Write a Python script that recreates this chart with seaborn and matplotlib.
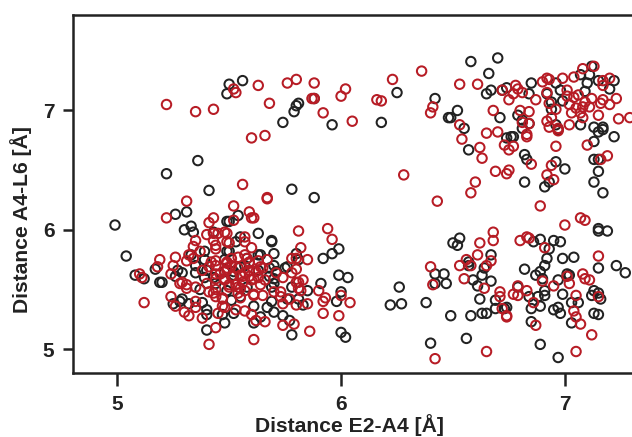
import matplotlib
matplotlib.use('Agg')
import matplotlib.pyplot as plt
import pandas as pd
import seaborn as sns

# distances, one group per colour
black_x = [5.50, 5.56, 5.49, 5.36, 5.22, 5.41,
           5.81, 5.80, 5.79, 5.74, 5.88, 5.96, 6.18, 6.25, 6.42, 6.48, 5.78, 5.88,
           6.58, 6.70, 6.66, 6.65, 6.67, 6.72, 6.74, 6.85, 6.84, 6.52, 6.49, 6.71, 6.55, 6.57,
           6.74, 6.76, 6.77, 6.79, 6.81, 6.84, 6.81, 6.82, 6.83, 6.82, 6.91, 6.93, 6.96, 7.00,
           6.92, 6.96, 6.98, 6.99, 6.94, 6.94, 6.96, 6.97, 7.07, 7.09, 7.10, 7.11, 7.07, 7.12,
           7.15, 7.22, 7.20, 7.13, 7.15, 7.17, 7.17, 7.22, 7.13, 7.13, 7.15, 7.15, 7.13, 7.17,
           4.99, 5.04, 5.08, 5.12, 5.19, 5.20, 5.17, 5.26, 5.31, 5.33, 5.30, 5.34, 5.27, 5.26,
           5.29, 5.25, 5.28, 5.32, 5.38, 5.40, 5.40, 5.40, 5.48, 5.35, 5.37, 5.39, 5.39, 5.35,
           5.40, 5.39, 5.43, 5.49, 5.49, 5.48, 5.44, 5.43, 5.49, 5.47, 5.33,
           5.54, 5.50, 5.63, 5.69, 5.69, 5.70, 5.55, 5.50, 5.63, 5.58, 5.80, 5.81, 5.99, 5.96,
           5.92, 5.99, 6.03, 5.91, 6.00, 5.98, 6.00, 6.02, 5.78, 5.75, 5.70, 5.68, 5.69, 5.78,
           5.85, 5.83, 5.81, 5.76, 5.69, 5.67, 5.61, 5.70, 5.74, 5.77, 5.64, 5.61, 5.52, 5.55,
           5.52, 5.63, 5.58, 5.51, 5.55,
           5.53, 5.48, 5.52, 5.29, 5.64, 5.68, 5.71, 5.76, 5.70, 5.70, 5.57,
           6.53, 6.50, 6.52, 6.42, 6.46, 6.47, 6.42, 6.26, 6.27, 6.22, 6.38, 6.49, 6.40, 6.56,
           6.58, 6.63, 6.65, 6.62, 6.59, 6.61, 6.67, 6.63, 6.64, 6.67, 6.57, 6.57, 6.69, 6.69, 6.73,
           7.15, 7.15, 7.19, 6.89, 6.86, 6.95, 6.98, 6.93, 6.92, 6.99, 7.04, 7.15, 7.23, 7.27,
           6.91, 6.82, 6.89, 6.87, 6.90, 7.01, 7.02, 6.97, 6.79, 6.91, 6.91, 6.84, 6.88, 6.99,
           7.13, 7.12, 7.15, 7.16, 7.03, 7.06, 6.89, 6.85, 6.95, 6.97, 6.98, 7.13, 7.15, 7.03,
           6.85, 6.74, 6.89, 6.97]
black_y = [7.22, 7.25, 7.14, 6.58, 6.47, 6.33,
           7.06, 7.04, 6.99, 6.90, 7.10, 6.88, 6.90, 7.15, 7.10, 6.94, 6.34, 6.27,
           7.41, 7.44, 7.31, 7.14, 7.17, 7.17, 7.19, 7.23, 7.14, 7.00, 6.94, 6.94, 6.85, 6.67,
           6.77, 6.78, 6.78, 6.96, 6.92, 6.89, 6.85, 6.63, 6.59, 6.40, 6.36, 6.40, 6.57, 6.51,
           7.14, 7.23, 7.17, 7.08, 7.07, 7.01, 6.88, 6.84, 6.88, 7.16, 7.23, 7.30, 7.30, 7.37,
           7.25, 7.25, 7.18, 6.86, 6.82, 6.86, 6.84, 6.78, 6.74, 6.59, 6.59, 6.49, 6.40, 6.31,
           6.04, 5.78, 5.62, 5.59, 5.56, 5.56, 5.67, 6.13, 6.15, 6.03, 6.00, 5.98, 5.66, 5.61,
           5.64, 5.38, 5.40, 5.38, 5.39, 5.33, 5.29, 5.16, 5.22, 5.64, 5.50, 5.82, 5.75, 5.70,
           5.66, 5.60, 5.98, 6.07, 5.82, 5.65, 5.55, 5.60, 5.49, 5.29, 5.79,
           6.12, 6.07, 5.97, 5.91, 5.90, 5.80, 5.94, 5.82, 5.79, 5.76, 5.80, 5.75, 5.84, 5.80,
           5.76, 5.62, 5.60, 5.55, 5.48, 5.40, 5.14, 5.10, 5.12, 5.68, 5.70, 5.61, 5.52, 5.52,
           5.49, 5.37, 5.42, 5.42, 5.40, 5.35, 5.36, 5.31, 5.28, 5.24, 5.27, 5.22, 5.30, 5.69,
           5.62, 5.66, 5.52, 5.41, 5.44,
           5.90, 5.75, 5.65, 5.42, 5.79, 5.68, 5.65, 5.69, 5.59, 5.55, 5.70,
           5.93, 5.89, 5.87, 5.63, 5.63, 5.55, 5.55, 5.52, 5.38, 5.37, 5.39, 5.28, 5.05, 5.09,
           5.28, 5.30, 5.30, 5.42, 5.58, 5.53, 5.57, 5.62, 5.68, 5.79, 5.70, 5.73, 5.34, 5.41, 5.34,
           6.01, 5.99, 5.99, 5.92, 5.90, 5.91, 5.90, 5.84, 5.76, 5.76, 5.77, 5.68, 5.70, 5.64,
           5.70, 5.67, 5.65, 5.62, 5.59, 5.63, 5.62, 5.58, 5.52, 5.49, 5.45, 5.44, 5.44, 5.46,
           5.49, 5.45, 5.47, 5.42, 5.39, 5.39, 5.36, 5.34, 5.33, 5.35, 5.30, 5.30, 5.29, 5.22,
           5.23, 5.35, 5.04, 4.93]

red_x = [5.22, 5.35, 5.43, 5.52, 5.53, 5.63, 5.68, 5.60, 5.66, 5.56, 5.31, 5.67,
         5.76, 5.80, 5.88, 5.87, 5.88, 5.92, 6.02, 6.00, 6.05, 6.16, 6.18, 6.23, 6.36, 6.41,
         6.40, 6.28, 6.43,
         6.53, 6.61, 6.72, 6.78, 6.77, 6.79, 6.81, 6.75, 6.87, 6.90, 6.92, 6.93, 6.99, 6.92,
         7.04, 7.08, 7.13, 7.17, 7.20, 7.17, 7.01, 7.06, 7.04, 7.01, 7.12, 7.17, 7.23, 7.20,
         7.16, 7.09, 7.11, 7.08, 7.05, 7.02, 6.93, 6.96, 7.03, 7.07, 7.08, 7.15, 7.24, 7.29,
         6.68, 6.80, 6.84, 6.53, 6.54, 6.65, 6.70, 6.81, 6.84, 6.83, 6.83, 6.92, 6.94, 6.93,
         6.97, 6.97, 7.02, 6.96, 7.10, 6.62, 6.73, 6.75, 6.77, 6.63, 6.85, 6.69, 6.75, 6.74,
         6.94, 6.92, 6.95, 7.16, 7.19, 6.60, 6.58,
         5.22, 5.41, 5.43, 5.40, 5.43, 5.45, 5.48, 5.35, 5.43, 5.44, 5.44, 5.49, 5.34, 5.37,
         5.32, 5.34, 5.31, 5.26, 5.25, 5.19, 5.18, 5.10, 5.11, 5.12, 5.24, 5.28, 5.31, 5.35,
         5.24, 5.26, 5.30, 5.32, 5.35, 5.35, 5.38, 5.44, 5.41, 5.45, 5.47, 5.44, 5.44, 5.42,
         5.44, 5.40, 5.41, 5.44, 5.44, 5.47, 5.49, 5.48, 5.38,
         5.52, 5.67, 5.59, 5.61, 5.60, 5.52, 5.49, 5.57, 5.57, 5.50, 5.60, 5.81, 5.94, 5.96,
         5.82, 5.85, 5.80, 5.78, 5.57, 5.54, 5.51, 5.49, 5.51, 5.59, 5.63, 5.67, 5.64, 5.59,
         5.56, 5.60, 5.63, 5.66, 5.64, 5.71, 5.74, 5.78, 5.80, 5.83, 5.81, 5.81, 5.82, 5.90,
         5.93, 5.92, 6.00, 6.04, 5.92, 5.99, 5.86, 5.79, 5.74, 5.61, 5.66, 5.62, 5.60, 5.57,
         5.53, 5.48, 5.85, 5.80, 5.74, 5.77, 5.73, 5.70, 5.61, 5.65, 5.55, 5.57, 5.54, 5.50,
         5.49,
         5.46, 5.44, 5.48, 5.50, 5.53, 5.54, 5.47, 5.43, 5.31, 5.29, 5.41, 5.49, 5.54, 5.55,
         5.51, 5.58, 5.59, 5.57, 5.62, 5.65, 5.59, 5.61, 5.56, 5.55, 5.61, 5.73, 5.80,
         6.68, 6.68, 6.62, 6.61, 6.67, 6.65, 6.58, 6.56, 6.53, 6.40, 6.41, 6.55, 6.64, 6.71,
         6.71, 6.72, 6.74, 6.65, 6.42,
         6.89, 7.00, 7.07, 7.09, 6.80, 6.83, 6.84, 6.91, 7.15, 6.90, 7.01, 7.02, 6.95, 7.08,
         7.09, 7.11, 7.05, 7.15, 6.79, 6.83, 6.77, 6.79, 6.86, 6.74, 6.87, 7.04, 7.05, 7.07,
         7.12, 7.05]
red_y = [7.05, 6.99, 7.01, 7.18, 7.15, 7.21, 7.06, 6.77, 6.79, 6.38, 6.24, 6.27,
         7.23, 7.26, 7.23, 7.10, 7.10, 6.98, 7.18, 7.12, 6.91, 7.09, 7.08, 7.26, 7.33, 7.03,
         6.98, 6.46, 6.24,
         7.22, 7.22, 7.17, 7.21, 7.14, 7.18, 7.15, 7.09, 7.09, 7.24, 7.27, 7.26, 7.27, 7.15,
         7.28, 7.35, 7.37, 7.25, 7.27, 7.21, 7.17, 7.13, 7.11, 7.12, 7.10, 7.09, 7.10, 7.05,
         7.06, 7.07, 7.03, 7.03, 7.02, 7.05, 7.06, 7.01, 6.98, 6.98, 6.94, 6.96, 6.93, 6.94,
         7.00, 7.00, 6.99, 6.88, 6.76, 6.81, 6.82, 6.90, 6.89, 6.80, 6.78, 6.91, 6.94, 6.86,
         6.85, 6.83, 6.88, 6.70, 6.71, 6.69, 6.71, 6.67, 6.70, 6.60, 6.55, 6.49, 6.50, 6.47,
         6.54, 6.46, 6.42, 6.59, 6.62, 6.40, 6.31,
         6.10, 6.06, 6.10, 5.96, 5.97, 5.97, 5.98, 5.91, 5.91, 5.87, 5.84, 5.90, 5.86, 5.82,
         5.79, 5.76, 5.74, 5.77, 5.70, 5.75, 5.69, 5.63, 5.60, 5.39, 5.63, 5.55, 5.51, 5.52,
         5.44, 5.36, 5.31, 5.28, 5.40, 5.35, 5.26, 5.18, 5.04, 5.30, 5.36, 5.74, 5.70, 5.73,
         5.63, 5.55, 5.48, 5.50, 5.44, 5.43, 5.72, 5.58, 5.66,
         6.20, 6.26, 6.15, 6.10, 6.10, 6.08, 5.97, 5.94, 5.90, 5.89, 5.85, 5.99, 6.01, 5.92,
         5.85, 5.75, 5.76, 5.76, 5.79, 5.77, 5.76, 5.73, 5.70, 5.73, 5.74, 5.75, 5.69, 5.66,
         5.61, 5.58, 5.60, 5.58, 5.54, 5.64, 5.60, 5.64, 5.67, 5.58, 5.56, 5.51, 5.49, 5.49,
         5.43, 5.40, 5.45, 5.39, 5.30, 5.28, 5.15, 5.21, 5.20, 5.08, 5.23, 5.24, 5.29, 5.32,
         5.33, 5.35, 5.38, 5.37, 5.38, 5.42, 5.44, 5.48, 5.46, 5.45, 5.43, 5.49, 5.52, 5.52,
         5.66,
         5.63, 5.59, 5.59, 5.54, 5.54, 5.47, 5.42, 5.47, 5.54, 5.56, 5.69, 5.68, 5.68, 5.62,
         5.61, 5.76, 5.72, 5.64, 5.65, 5.68, 5.61, 5.59, 5.56, 5.51, 5.45, 5.48, 5.56,
         5.98, 5.91, 5.89, 5.79, 5.74, 5.70, 5.70, 5.75, 5.70, 5.69, 5.54, 5.59, 5.51, 5.48,
         5.44, 5.34, 5.28, 4.98, 4.92,
         6.20, 6.04, 6.10, 6.08, 5.91, 5.94, 5.93, 5.85, 5.78, 5.57, 5.61, 5.55, 5.53, 5.63,
         5.59, 5.58, 5.45, 5.44, 5.53, 5.49, 5.46, 5.45, 5.39, 5.27, 5.20, 5.32, 5.27, 5.21,
         5.12, 4.98]

black_df = pd.DataFrame({'E2A4': black_x, 'A4L6': black_y})
red_df = pd.DataFrame({'E2A4': red_x, 'A4L6': red_y})

sns.set_theme(style='ticks')
plt.rcParams['font.family'] = ['Liberation Sans', 'DejaVu Sans']

dark = '#222222'

fig = plt.figure(figsize=(6.32, 4.37), dpi=100)
ax = fig.add_axes([72.5 / 632, 1 - 373 / 437, 1 - 72.5 / 632, (373 - 15) / 437])

sns.scatterplot(data=black_df, x='E2A4', y='A4L6', ax=ax, s=46, facecolor='none',
                edgecolor=dark, linewidth=1.45)
sns.scatterplot(data=red_df, x='E2A4', y='A4L6', ax=ax, s=46, facecolor='none',
                edgecolor='#b71c25', linewidth=1.45)

ax.set_xlim(4.8, 7.3)
ax.set_ylim(4.8, 7.8)
ax.set_xticks([5, 6, 7])
ax.set_yticks([5, 6, 7])
ax.set_xlabel('Distance E2-A4 [Å]', fontsize=15.2, fontweight='bold', color=dark)
ax.set_ylabel('Distance A4-L6 [Å]', fontsize=15.2, fontweight='bold', color=dark)
# label positions in axes fractions, both sit off the axis centre
ax.xaxis.set_label_coords(0.495, -0.115)
ax.yaxis.set_label_coords(-0.072, 0.43)
ax.tick_params(axis='x', length=9.5, width=1.8, color=dark, labelcolor=dark, labelsize=15, pad=6)
ax.tick_params(axis='y', length=7, width=1.8, color=dark, labelcolor=dark, labelsize=15, pad=6)
for lab in ax.get_xticklabels() + ax.get_yticklabels():
    lab.set_fontweight('bold')
for side in ['left', 'top', 'bottom']:
    ax.spines[side].set_linewidth(1.8)
    ax.spines[side].set_color(dark)
ax.spines['right'].set_visible(False)

fig.savefig('out.png', dpi=100)
